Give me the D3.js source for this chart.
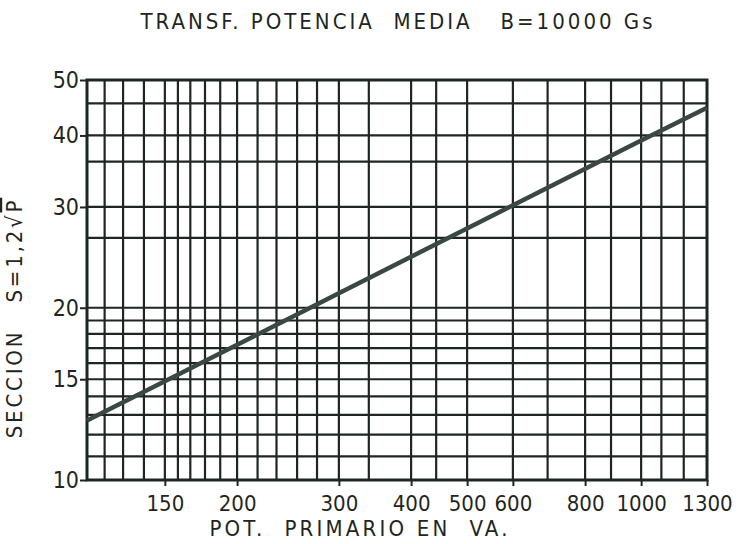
<!DOCTYPE html>
<html>
<head>
<meta charset="utf-8">
<script src="https://cdn.jsdelivr.net/npm/d3@7"></script>
<style>
  html, body { margin: 0; padding: 0; background: #ffffff; }
  svg { display: block; }
  text { font-family: "DejaVu Sans Condensed", "DejaVu Sans", "Liberation Sans", sans-serif; fill: #1f2622; }
</style>
</head>
<body>
<div id="chart"></div>
<script>
// ---- data ----
const title = "TRANSF. POTENCIA  MEDIA   B=10000 Gs";
const xTitle = "POT.  PRIMARIO EN  VA.";
const yTitleA = "SECCION   S=1,2√";
const yTitleB = "P";

const xDomain = [110, 1300];
const yDomain = [10, 50];

// labelled ticks
const xTickValues = [150, 200, 300, 400, 500, 600, 800, 1000, 1300];
const yTickValues = [10, 15, 20, 30, 40, 50];

// unlabelled grid lines (hand-ruled paper, positions)
const xMinorGrid = [118, 127, 138, 158, 166, 176, 187, 217, 234, 254, 275, 338, 442, 689, 887, 1084, 1185];
const yMinorGrid = [11, 12, 13, 14, 16, 17, 18, 19, 26.5, 36, 45.5];

// the plotted line S = 1,2 * sqrt(P)
const lineP = [110, 300, 1000, 1300];
const lineS = [12.7, 21.2, 39.2, 44.7];

// ---- drawing ----
const W = 742, H = 544;
const plot = { left: 87, right: 707, top: 80, bottom: 480 };
const fontFam = "'DejaVu Sans Condensed', 'DejaVu Sans', sans-serif";

const svg = d3.select("#chart").append("svg")
  .attr("width", W).attr("height", H);

const x = d3.scaleLog().domain(xDomain).range([plot.left, plot.right]);
const y = d3.scaleLog().domain(yDomain).range([plot.bottom, plot.top]);

const ink = "#1f2622";

// grid
const gridX = xMinorGrid.concat(xTickValues.filter(v => v < xDomain[1]));
const gridY = yMinorGrid.concat(yTickValues.filter(v => v > yDomain[0] && v < yDomain[1]));

svg.append("g").selectAll("line").data(gridX).join("line")
  .attr("x1", d => x(d)).attr("x2", d => x(d))
  .attr("y1", plot.top).attr("y2", plot.bottom)
  .attr("stroke", ink).attr("stroke-width", 2.2);

svg.append("g").selectAll("line").data(gridY).join("line")
  .attr("y1", d => y(d)).attr("y2", d => y(d))
  .attr("x1", plot.left).attr("x2", plot.right)
  .attr("stroke", ink).attr("stroke-width", 2.2);

// frame
svg.append("rect")
  .attr("x", plot.left).attr("y", plot.top)
  .attr("width", plot.right - plot.left).attr("height", plot.bottom - plot.top)
  .attr("fill", "none").attr("stroke", ink).attr("stroke-width", 3);

// axes
const xAxis = d3.axisBottom(x).tickValues(xTickValues).tickFormat(d3.format("d"))
  .tickSize(6).tickPadding(8);
const gx = svg.append("g").attr("transform", `translate(0,${plot.bottom})`).call(xAxis);
gx.select(".domain").remove();
gx.selectAll(".tick line").attr("stroke", ink).attr("stroke-width", 2);
gx.selectAll(".tick text").attr("font-size", 22).attr("fill", ink)
  .style("font-family", fontFam).attr("dy", "0.75em");

const yAxis = d3.axisLeft(y).tickValues(yTickValues).tickFormat(d3.format("d"))
  .tickSize(7).tickPadding(1);
const gy = svg.append("g").attr("transform", `translate(${plot.left},0)`).call(yAxis);
gy.select(".domain").remove();
gy.selectAll(".tick line").attr("stroke", ink).attr("stroke-width", 2);
gy.selectAll(".tick text").attr("font-size", 23).attr("fill", ink)
  .style("font-family", fontFam);

// data line
const pts = lineP.map((p, i) => [p, lineS[i]]);
svg.append("path")
  .datum(pts)
  .attr("d", d3.line().x(d => x(d[0])).y(d => y(d[1])))
  .attr("fill", "none").attr("stroke", "#3a4843").attr("stroke-width", 4.5)
  .attr("stroke-linecap", "butt");

// titles
svg.append("text")
  .attr("x", 398).attr("y", 29)
  .attr("text-anchor", "middle")
  .attr("font-size", 22).attr("letter-spacing", 3)
  .style("white-space", "pre")
  .text(title);

svg.append("text")
  .attr("x", 360).attr("y", 536)
  .attr("text-anchor", "middle")
  .attr("font-size", 22).attr("letter-spacing", 3.2)
  .style("white-space", "pre")
  .text(xTitle);

const yt = svg.append("text")
  .attr("transform", "translate(22,318) rotate(-90)")
  .attr("text-anchor", "middle")
  .attr("font-size", 22).attr("letter-spacing", 2.8)
  .style("white-space", "pre");
yt.append("tspan").text(yTitleA);
yt.append("tspan").style("text-decoration", "overline").text(yTitleB);
</script>
</body>
</html>
